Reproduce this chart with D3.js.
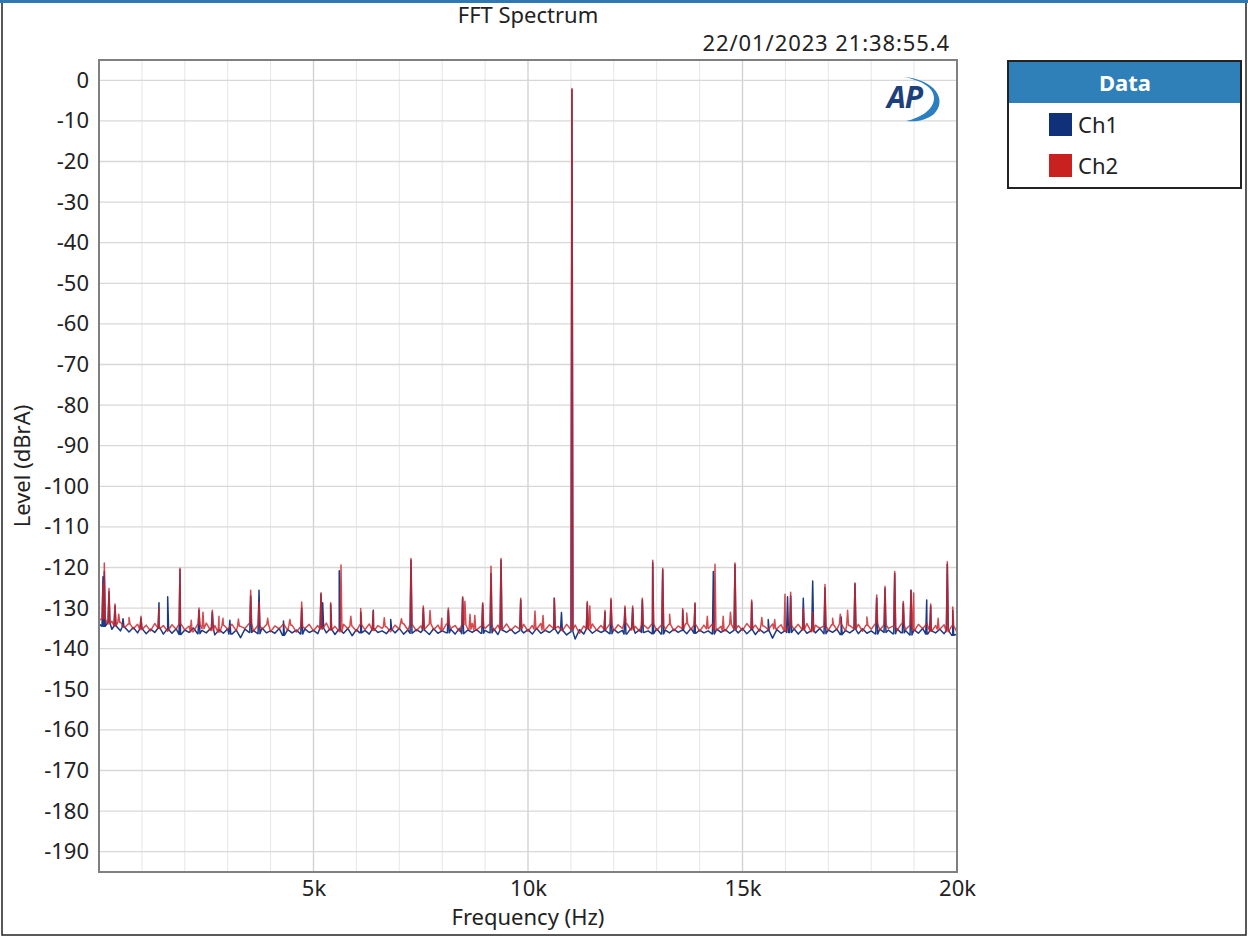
<!DOCTYPE html>
<html>
<head>
<meta charset="utf-8">
<script src="https://cdn.jsdelivr.net/npm/d3@7"></script>
<style>
  html, body { margin: 0; padding: 0; background: #fff; }
  svg { display: block; font-family: "Noto Sans", "Open Sans", sans-serif; }
</style>
</head>
<body>
<svg id="chart" width="1248" height="937"></svg>
<script>
// ---- Data ----------------------------------------------------------------
const chartTitle = "FFT Spectrum";
const timeStamp = "22/01/2023 21:38:55.4";
const seriesNames = ["Ch1", "Ch2"];

// Frequency axis ticks
const xMajorTicks = [5000, 10000, 15000, 20000];
const xMajorLabels = ["5k", "10k", "15k", "20k"];
const xMinorTicks = [1000, 2000, 3000, 4000, 6000, 7000, 8000, 9000, 11000, 12000,
                     13000, 14000, 16000, 17000, 18000, 19000];
const yTicks = [0, -10, -20, -30, -40, -50, -60, -70, -80, -90, -100, -110, -120,
                -130, -140, -150, -160, -170, -180, -190];

// Noise floor, one level per 100 Hz bin from 0 Hz to 20 kHz (dBrA)
const floorBinHz = 100;
const ch1Floor = [
  -133.9,-134.5,-133.6,-135.2,-134.4,-135.6,-134.7,-135.9,-134.8,-136.1,
  -135.0,-136.3,-135.2,-136.0,-134.9,-136.4,-135.3,-136.2,-135.1,-136.5,
  -135.4,-136.0,-134.9,-136.3,-135.5,-136.1,-135.0,-136.6,-135.3,-136.2,
  -135.1,-136.4,-135.4,-137.3,-135.2,-136.0,-135.5,-136.3,-134.9,-136.1,
  -135.6,-136.2,-135.0,-136.7,-135.3,-136.1,-135.4,-136.4,-135.1,-136.0,
  -135.5,-136.3,-134.9,-136.1,-135.2,-136.5,-135.4,-136.2,-135.0,-136.8,
  -135.3,-136.1,-135.5,-136.4,-135.1,-136.0,-135.6,-136.3,-135.2,-136.1,
  -135.0,-136.4,-135.4,-136.2,-135.3,-136.0,-135.5,-136.5,-135.1,-136.2,
  -135.6,-136.1,-135.2,-136.4,-135.0,-136.3,-135.4,-136.0,-135.3,-136.2,
  -135.5,-136.1,-135.1,-136.5,-135.4,-136.0,-135.2,-136.3,-135.6,-136.1,
  -135.3,-136.4,-135.0,-136.2,-135.5,-136.0,-135.2,-136.3,-135.4,-136.6,
  -135.8,-137.6,-135.3,-136.4,-135.1,-136.2,-135.4,-136.0,-135.6,-136.3,
  -135.2,-136.1,-135.5,-136.4,-135.0,-136.2,-135.3,-136.0,-135.6,-136.3,
  -135.1,-136.4,-135.4,-136.1,-135.2,-136.0,-135.5,-136.3,-135.0,-136.2,
  -135.4,-136.1,-135.6,-136.4,-135.2,-136.0,-135.3,-136.2,-135.5,-136.1,
  -135.0,-136.3,-135.4,-136.5,-135.2,-136.1,-135.6,-137.4,-135.3,-136.2,
  -135.5,-136.0,-135.1,-136.4,-135.3,-136.2,-135.6,-136.1,-135.0,-136.3,
  -135.4,-136.0,-135.2,-136.5,-135.5,-136.1,-135.3,-136.3,-135.1,-136.2,
  -135.6,-136.4,-135.2,-136.0,-135.4,-136.3,-135.1,-136.1,-135.5,-136.6,
  -135.3,-136.2,-135.0,-136.4,-135.6,-136.1,-135.2,-136.3,-135.5,-136.7,
  -136.4
];
const ch2Floor = [
  -133.0,-132.6,-133.9,-133.2,-134.4,-133.5,-134.8,-133.9,-135.1,-134.0,
  -135.3,-134.2,-135.6,-133.8,-135.0,-134.3,-135.7,-134.1,-135.2,-133.9,
  -135.4,-134.4,-135.8,-134.0,-135.1,-133.7,-135.5,-134.3,-135.9,-134.2,
  -135.2,-134.0,-135.6,-134.5,-135.0,-133.8,-135.7,-134.3,-135.3,-134.1,
  -135.8,-134.4,-135.1,-133.9,-135.5,-134.2,-135.9,-134.6,-135.0,-134.0,
  -135.6,-134.3,-135.2,-133.7,-135.4,-134.5,-135.8,-134.0,-135.1,-134.4,
  -135.7,-134.1,-135.3,-133.9,-135.5,-134.3,-135.0,-134.6,-135.8,-134.2,
  -135.2,-133.8,-135.4,-134.0,-135.6,-134.4,-135.1,-133.9,-135.3,-134.2,
  -135.5,-133.9,-135.0,-134.3,-135.7,-134.1,-135.2,-133.8,-135.4,-134.5,
  -135.0,-134.0,-135.6,-134.2,-135.3,-133.9,-135.5,-134.4,-135.1,-134.0,
  -135.7,-134.3,-135.2,-133.8,-135.4,-134.1,-135.0,-134.5,-135.6,-134.0,
  -135.3,-134.2,-136.2,-134.4,-135.1,-133.9,-135.5,-134.3,-135.2,-134.0,
  -135.6,-134.1,-135.0,-133.8,-135.4,-134.5,-135.7,-134.2,-135.1,-133.9,
  -135.5,-134.3,-135.2,-134.0,-135.6,-134.4,-135.0,-133.8,-135.3,-134.1,
  -135.7,-134.2,-135.1,-133.9,-135.4,-134.5,-135.6,-134.0,-135.2,-134.3,
  -135.5,-133.8,-135.0,-134.2,-135.7,-134.4,-135.3,-133.9,-135.1,-134.1,
  -135.6,-134.3,-135.2,-134.0,-135.4,-133.8,-135.8,-134.2,-135.0,-134.4,
  -135.5,-134.1,-135.3,-133.9,-135.6,-134.3,-135.1,-134.0,-135.7,-134.2,
  -135.2,-133.8,-135.4,-134.1,-135.0,-134.5,-135.6,-133.9,-135.3,-134.2,
  -135.5,-134.0,-135.1,-133.8,-135.7,-134.3,-135.2,-134.1,-135.8,-134.4,
  -135.9
];

// Discrete spectral lines: [frequency Hz, level dBrA]
const ch1Lines = [
  [93,-122.3],[124,-121],[233,-126],[373,-129.5],[560,-132.6],[979,-132.5],[1399,-128.7],
  [1601,-127.2],[1888,-120.5],[2331,-130.5],[2641,-131],[3050,-133],[3536,-127],[3730,-125.6],
  [4300,-133.2],[4725,-130],[5175,-126.5],[5214,-128.7],[5400,-129],[5600,-120.8],[6100,-131],
  [6394,-130.5],[6800,-132.8],[7273,-118.2],[7560,-130],[8143,-130.5],[8477,-127.5],[8944,-129],
  [9138,-121.5],[9371,-118.2],[9830,-128],[10613,-127.6],[10780,-131.1],[11025,-2.3],
  [11382,-128.8],[11795,-131],[11935,-128],[12261,-130],[12440,-130],[12665,-128],
  [12907,-118.8],[13140,-120.6],[13606,-130.5],[13893,-129],[14320,-121],[14825,-119.3],
  [15214,-128.5],[15600,-132.8],[16050,-127.2],[16123,-127],[16417,-127.6],[16636,-123.3],[16923,-125],
  [17300,-132.2],[17622,-124],[18128,-127.5],[18322,-125.2],[18548,-121.5],[18748,-128.8],[18928,-125.6],
  [19294,-128],[19387,-129.5],[19774,-119.2],[19900,-130.5]
];
const ch2Lines = [
  [93,-124],[124,-118.9],[233,-125.2],[373,-129],[460,-131.5],[700,-132.3],[979,-132],[1399,-130],
  [1888,-120.2],[2150,-133],[2331,-130],[2424,-131],[2641,-130.5],[2797,-132],[2890,-132.5],
  [3250,-132.7],[3536,-125.6],[3730,-128.5],[3932,-132.5],[4450,-132.8],[4725,-128.5],[5175,-126.2],[5400,-128.7],
  [5641,-119.4],[5870,-132],[6100,-130.1],[6394,-130.8],[6650,-132.4],[7050,-132.6],[7273,-117.8],[7560,-129.5],
  [7716,-130.6],[7990,-132.5],[8143,-130],[8477,-127.2],[8530,-128.3],[8648,-131.5],
  [8760,-131.8],[8944,-128.7],[9138,-119.7],[9371,-117.8],[9830,-127.6],[10163,-130.7],
  [10350,-131.8],[10613,-127.6],[11025,-2],[11382,-128.4],[11440,-129.5],[11795,-130.5],
  [11935,-127.6],[12261,-129.5],[12440,-129.5],[12665,-127.6],[12907,-118.2],[13140,-120.2],
  [13300,-131.5],[13606,-130.1],[13700,-131.2],[13893,-128.7],[14180,-132],[14359,-119.2],
  [14550,-132],[14720,-131],[14825,-118.9],[15214,-128],[15450,-132.3],[15750,-132.8],[15991,-126.6],[16123,-126.1],
  [16417,-130],[16636,-131],[16923,-124.2],[17100,-132.5],[17280,-131.5],[17450,-130.5],[17622,-123.8],
  [17900,-132.2],[18128,-126.8],[18322,-124.6],[18548,-121],[18748,-128.4],[18928,-125.6],[18990,-126.3],
  [19387,-129],[19560,-132.5],[19774,-118.6],[19900,-129.7]
];

// ---- Layout --------------------------------------------------------------
const W = 1248, H = 937;
const plot = { left: 99, right: 957, top: 60, bottom: 872 };
const FONT = 22;
const colors = { ch1: "#1b3a86", ch2: "#cc2228", header: "#2f7fb8" };

const svg = d3.select("#chart");

const x = d3.scaleLinear().domain([0, 20000]).range([plot.left, plot.right]);
const y = d3.scaleLinear().domain([5, -195]).range([plot.top, plot.bottom]);

// Outer window frame
svg.append("rect").attr("x", 2).attr("y", 2).attr("width", W - 4).attr("height", H - 4)
  .attr("fill", "#fff").attr("stroke", "#222").attr("stroke-width", 1.5);
svg.append("rect").attr("x", 0).attr("y", 0).attr("width", W).attr("height", 3)
  .attr("fill", "#2e79b4");

// Gridlines
const grid = svg.append("g");
grid.selectAll(".vminor").data(xMinorTicks).join("line")
  .attr("x1", d => x(d)).attr("x2", d => x(d))
  .attr("y1", plot.top).attr("y2", plot.bottom)
  .attr("stroke", "#e6e6e6").attr("stroke-width", 1);
grid.selectAll(".vmajor").data(xMajorTicks).join("line")
  .attr("x1", d => x(d)).attr("x2", d => x(d))
  .attr("y1", plot.top).attr("y2", plot.bottom)
  .attr("stroke", "#cfcfcf").attr("stroke-width", 1.3);
grid.selectAll(".h").data(yTicks).join("line")
  .attr("x1", plot.left).attr("x2", plot.right)
  .attr("y1", d => y(d)).attr("y2", d => y(d))
  .attr("stroke", "#d8d8d8").attr("stroke-width", 1.3);

// Build a trace from the floor bins plus the discrete lines
function buildTrace(floor, lines) {
  const pts = floor.map((v, i) => [i * floorBinHz, v]);
  lines.forEach(([f, lv]) => {
    const base = floor[Math.min(floor.length - 1, Math.round(f / floorBinHz))];
    pts.push([f - 22, base], [f, lv], [f + 22, base]);
  });
  return pts.filter(p => p[0] >= 0 && p[0] <= 20000).sort((a, b) => a[0] - b[0]);
}

svg.append("clipPath").attr("id", "plotClip")
  .append("rect").attr("x", plot.left).attr("y", plot.top)
  .attr("width", plot.right - plot.left).attr("height", plot.bottom - plot.top);

const line = d3.line().x(d => x(d[0])).y(d => y(d[1]));
const traces = svg.append("g").attr("clip-path", "url(#plotClip)");
traces.append("path").datum(buildTrace(ch1Floor, ch1Lines))
  .attr("d", line).attr("fill", "none").attr("stroke", colors.ch1)
  .attr("stroke-width", 1.5).attr("stroke-linejoin", "round");
traces.append("path").datum(buildTrace(ch2Floor, ch2Lines))
  .attr("d", line).attr("fill", "none").attr("stroke", colors.ch2)
  .attr("stroke-opacity", 0.82)
  .attr("stroke-width", 1.5).attr("stroke-linejoin", "round");

// Plot border
svg.append("rect").attr("x", plot.left).attr("y", plot.top)
  .attr("width", plot.right - plot.left).attr("height", plot.bottom - plot.top)
  .attr("fill", "none").attr("stroke", "#808080").attr("stroke-width", 2);

// Axes (labels only, drawn through d3 axis generators)
const yAxis = d3.axisLeft(y).tickValues(yTicks).tickFormat(d => String(d))
  .tickSize(0).tickPadding(10);
const yg = svg.append("g").attr("transform", `translate(${plot.left},0)`).call(yAxis);
yg.select(".domain").remove();
yg.selectAll("text").attr("font-size", FONT).attr("fill", "#222")
  .attr("font-family", "Noto Sans");

const xAxis = d3.axisBottom(x).tickValues(xMajorTicks)
  .tickFormat((d, i) => xMajorLabels[i]).tickSize(0).tickPadding(8);
const xg = svg.append("g").attr("transform", `translate(0,${plot.bottom})`).call(xAxis);
xg.select(".domain").remove();
xg.selectAll("text").attr("font-size", FONT).attr("fill", "#222")
  .attr("font-family", "Noto Sans");

// Axis titles
svg.append("text").attr("x", (plot.left + plot.right) / 2).attr("y", 925)
  .attr("text-anchor", "middle").attr("font-size", FONT).attr("fill", "#222")
  .text("Frequency (Hz)");
svg.append("text")
  .attr("transform", `translate(30,${(plot.top + plot.bottom) / 2}) rotate(-90)`)
  .attr("text-anchor", "middle").attr("font-size", FONT).attr("fill", "#222")
  .text("Level (dBrA)");

// Title and time stamp
svg.append("text").attr("x", (plot.left + plot.right) / 2).attr("y", 23)
  .attr("text-anchor", "middle").attr("font-size", FONT).attr("fill", "#222")
  .text(chartTitle);
svg.append("text").attr("x", 950).attr("y", 51)
  .attr("text-anchor", "end").attr("font-size", FONT).attr("fill", "#222")
  .attr("letter-spacing", 0.9)
  .text(timeStamp);

// AP logo mark
const logo = svg.append("g");
logo.append("text").attr("x", 887).attr("y", 108)
  .attr("font-size", 30).attr("font-weight", "bold").attr("font-style", "italic")
  .attr("fill", "#1d3f7c").attr("letter-spacing", -1).text("AP");
logo.append("path")
  .attr("d", "M903,77 C935,79 948,100 934,114 C925,121 915,122 906,121 C920,118 934,110 934,98 C934,88 922,80 903,77 Z")
  .attr("fill", "#2a7fc1");

// Legend
const lg = svg.append("g");
lg.append("rect").attr("x", 1008).attr("y", 61).attr("width", 233).attr("height", 127)
  .attr("fill", "#fff").attr("stroke", "#222").attr("stroke-width", 2);
lg.append("rect").attr("x", 1009).attr("y", 62).attr("width", 231).attr("height", 41)
  .attr("fill", colors.header);
lg.append("text").attr("x", 1125).attr("y", 91).attr("text-anchor", "middle")
  .attr("font-size", FONT).attr("font-weight", "bold").attr("fill", "#fff").text("Data");
const legendColors = ["#10307a", "#c8211f"];
seriesNames.forEach((name, i) => {
  const cy = 125 + i * 41;
  lg.append("rect").attr("x", 1049).attr("y", cy - 12).attr("width", 23).attr("height", 23)
    .attr("fill", legendColors[i]);
  lg.append("text").attr("x", 1078).attr("y", cy + 8).attr("font-size", FONT)
    .attr("fill", "#222").text(name);
});
</script>
</body>
</html>
